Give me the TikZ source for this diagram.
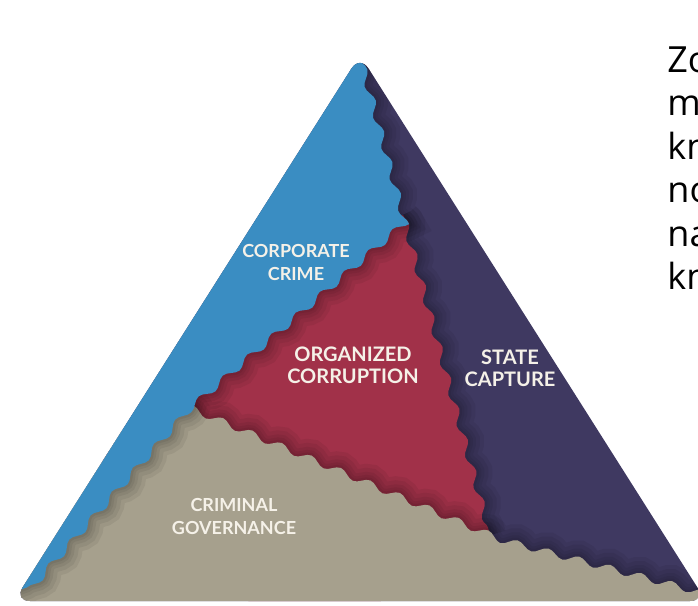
\documentclass[tikz,border=0pt]{standalone}
\usepackage{fontspec}
\setmainfont{Lato}
\newfontfamily\notefont{Open Sans}
\usetikzlibrary{decorations.pathmorphing}

\definecolor{crimeblue}{RGB}{58,141,194}
\definecolor{captureviolet}{RGB}{63,57,97}
\definecolor{corruptred}{RGB}{161,49,73}
\definecolor{governgray}{RGB}{166,160,141}
\definecolor{labelwhite}{RGB}{245,241,232}

\tikzset{
  tearline/.style={decoration={snake, segment length=16pt, amplitude=1.8pt}},
  dropshade/.style={tearline, decorate, draw=black, draw opacity=0.06, line width=#1},
  zonelabel/.style={text=labelwhite, font=\bfseries\fontsize{9}{11.5}\selectfont, align=center, inner sep=0pt},
  sidetext/.style={anchor=base west, inner sep=0pt, font=\notefont\fontsize{18}{18}\selectfont}
}

\begin{document}
\begin{tikzpicture}[x=0.5pt, y=-0.5pt]
    \useasboundingbox (0,0) rectangle (698,606);

    % corners of the pyramid and where the zones meet
    \coordinate (top) at (360,55);
    \coordinate (left) at (14,601);
    \coordinate (right) at (706,601);
    \coordinate (above) at (353,30);
    \coordinate (redtop) at (403,215);
    \coordinate (redleft) at (183,405);
    \coordinate (redfoot) at (490,535);
    \coordinate (grayend) at (740,601);
    \coordinate (grayleft) at (2,610);

    \begin{scope}
        \clip[rounded corners=8pt] (top) -- (right) -- (left) -- cycle;
        \fill[captureviolet] (-10,0) rectangle (720,620);

        % red middle
        \foreach \w in {16pt,12pt,8pt,5pt,2.5pt}
            \draw[dropshade=\w] (redtop) -- (redfoot);
        \fill[corruptred] (redtop) decorate[tearline]{-- (redfoot)}
            -- (300,650) -- (100,460) -- (330,240) -- cycle;

        % gray base
        \foreach \w in {16pt,12pt,8pt,5pt,2.5pt}
            \draw[dropshade=\w] (redleft) -- (redfoot) -- (grayend);
        \fill[governgray] (redleft) decorate[tearline]{-- (redfoot) -- (grayend)}
            -- (740,650) -- (-30,650) -- (60,500) -- (150,400) -- cycle;

        % blue side
        \foreach \w in {16pt,12pt,8pt,5pt,2.5pt}
            \draw[dropshade=\w] (above) -- (redtop) -- (redleft) -- (grayleft);
        \fill[crimeblue] (above) decorate[tearline]{-- (redtop) -- (redleft) -- (grayleft)}
            -- (-40,610) -- (-40,0) -- (353,0) -- cycle;
    \end{scope}

    \node[zonelabel] (corp) at (296,262) {CORPORATE\\CRIME};
    \node[zonelabel, font=\bfseries\fontsize{10}{11}\selectfont] (orgc) at (353,365) {ORGANIZED\\CORRUPTION};
    \node[zonelabel, font=\bfseries\fontsize{10}{11}\selectfont] (statec) at (510,368) {STATE\\CAPTURE};
    \node[zonelabel] (crimgov) at (234,516) {CRIMINAL\\GOVERNANCE};

    \node[sidetext] (line1) at (667,72) {Zo};
    \node[sidetext] (line2) at (667,115.5) {m};
    \node[sidetext] (line3) at (667,159) {kn};
    \node[sidetext] (line4) at (667,202.5) {no};
    \node[sidetext] (line5) at (667,246) {na};
    \node[sidetext] (line6) at (667,289.5) {kn};
\end{tikzpicture}
\end{document}
